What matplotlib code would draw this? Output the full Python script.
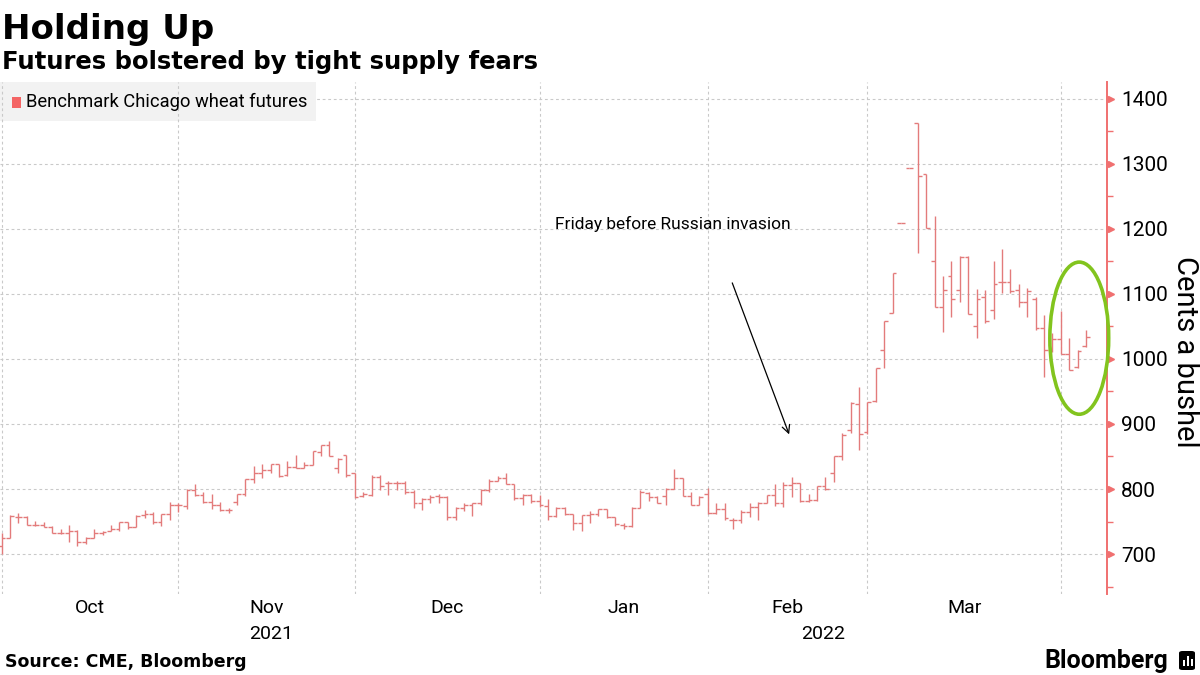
import matplotlib
matplotlib.use("Agg")
import matplotlib.pyplot as plt
import matplotlib.transforms as mtransforms
from matplotlib.patches import Ellipse, Rectangle, FancyBboxPatch

plt.rcParams['font.family'] = ['Roboto', 'DejaVu Sans']

# daily OHLC, cents a bushel, one entry per trading day (Sep 30 2021 onward)
opens = [712, 725, 757, 757, 745, 745, 742, 733, 733, 736,
         718, 725, 733, 736, 738, 749, 742, 760, 762, 750,
         761, 775, 774, 798, 791, 780, 775, 767, 780, 793,
         815, 824, 829, 838, 821, 834, 833, 837, 857, 867,
         833, 853, 825, 790, 791, 819, 809, 809, 810, 796,
         779, 785, 790, 788, 757, 771, 776, 778, 798, 813,
         817, 808, 786, 791, 781, 774, 758, 771, 762, 747,
         760, 762, 769, 757, 745, 743, 771, 794, 788, 790,
         800, 817, 790, 776, 793, 763, 770, 753, 752, 765,
         772, 779, 791, 778, 806, 809, 782, 783, 805, 824,
         850, 890, 931, 888, 936, 1014, 1070, 1209, 1293, 1363,
         1285, 1150, 1080, 1127, 1106, 1157, 1051, 1095, 1075, 1119,
         1119, 1106, 1088, 1093, 1047, 1014, 1031, 1008, 988, 1020]
highs = [732, 760, 763, 758, 751, 750, 743, 738, 745, 737,
         726, 738, 736, 745, 750, 750, 760, 767, 764, 762,
         780, 779, 800, 807, 795, 793, 780, 771, 793, 815,
         836, 838, 838, 838, 843, 853, 841, 858, 867, 874,
         847, 853, 825, 796, 821, 822, 813, 813, 812, 798,
         786, 791, 793, 789, 772, 778, 779, 800, 815, 820,
         824, 808, 793, 793, 791, 784, 772, 772, 762, 760,
         766, 769, 769, 757, 747, 772, 798, 796, 790, 802,
         831, 817, 795, 790, 801, 778, 778, 755, 768, 778,
         780, 791, 808, 811, 819, 809, 792, 805, 819, 850,
         886, 934, 957, 934, 986, 1059, 1133, 1209, 1293, 1363,
         1285, 1220, 1127, 1150, 1158, 1158, 1107, 1106, 1150, 1169,
         1138, 1116, 1109, 1095, 1068, 1040, 1074, 1032, 1014, 1044]
lows = [700, 725, 747, 745, 743, 741, 733, 731, 719, 712,
        716, 724, 730, 736, 736, 739, 742, 756, 746, 743,
        752, 765, 769, 790, 779, 770, 766, 763, 776, 790,
        810, 817, 824, 819, 820, 832, 832, 837, 850, 851,
        824, 819, 786, 788, 790, 798, 791, 798, 793, 771,
        768, 778, 779, 752, 752, 766, 759, 776, 795, 812,
        808, 783, 776, 779, 772, 753, 757, 760, 737, 736,
        748, 758, 755, 743, 738, 742, 771, 781, 778, 776,
        800, 790, 776, 776, 761, 761, 753, 739, 748, 757,
        753, 778, 774, 773, 788, 780, 780, 782, 798, 811,
        845, 886, 860, 885, 934, 986, 1070, 1209, 1293, 1163,
        1201, 1080, 1042, 1064, 1088, 1069, 1032, 1056, 1061, 1101,
        1101, 1080, 1064, 1045, 973, 1010, 1008, 983, 986, 1019]
closes = [725, 758, 757, 745, 745, 742, 733, 733, 736, 718,
          725, 733, 734, 738, 749, 742, 759, 761, 750, 761,
          775, 775, 798, 791, 780, 775, 767, 767, 793, 815,
          824, 829, 838, 820, 834, 833, 837, 858, 867, 851,
          846, 822, 788, 792, 819, 805, 810, 809, 796, 779,
          785, 788, 788, 757, 771, 776, 778, 798, 813, 817,
          808, 786, 791, 781, 776, 758, 771, 762, 747, 760,
          762, 769, 757, 746, 743, 771, 796, 788, 778, 800,
          817, 790, 776, 788, 763, 770, 755, 752, 765, 773,
          778, 791, 778, 806, 809, 782, 783, 805, 800, 850,
          883, 932, 885, 934, 986, 1059, 1133, 1209, 1293, 1281,
          1201, 1080, 1106, 1092, 1157, 1069, 1092, 1059, 1116, 1119,
          1104, 1088, 1104, 1047, 1014, 1031, 1008, 983, 1013, 1034]
days = list(range(len(closes)))

# gridlines sit on the last session of each month
month_edges = [0, 21, 42, 64, 84, 103, 126]
month_labels = ['Oct', 'Nov', 'Dec', 'Jan', 'Feb', 'Mar']
year_labels = ['2021', '2022']
year_edges = [0, 64]
yticks = [700, 800, 900, 1000, 1100, 1200, 1300, 1400]
yminor = [650, 750, 850, 950, 1050, 1150, 1250, 1350]

red = '#f07070'
bar_col = '#e37b7b'
grid_col = '#c9c9c9'
wide_bold = ['DejaVu Sans']

fig = plt.figure(figsize=(12, 6.75), dpi=100)
ax = fig.add_axes([0, 0.12, 0.9225, 0.7585])
x_lo, x_hi = -0.2, 131.5
ax.set_xlim(x_lo, x_hi)
ax.set_ylim(638.5, 1426)

for v in yticks:
    ax.axhline(v, color=grid_col, lw=0.8, ls=(0, (2.5, 2.5)), zorder=1)
for e in month_edges:
    ax.axvline(e, color=grid_col, lw=0.8, ls=(0, (2.5, 2.5)), zorder=3)

# OHLC bars
w = 0.45
ax.vlines(days, lows, highs, color=bar_col, lw=1.0, zorder=4)
ax.hlines(opens, [d - w for d in days], days, color=bar_col, lw=1.0, zorder=4)
ax.hlines(closes, days, [d + w for d in days], color=bar_col, lw=1.0, zorder=4)

for s in ['top', 'left', 'bottom']:
    ax.spines[s].set_visible(False)
ax.spines['right'].set_color(red)
ax.spines['right'].set_linewidth(1.4)

ax.set_xticks([])
ax.yaxis.tick_right()
ax.set_yticks(yticks)
ax.set_yticks(yminor, minor=True)
ax.tick_params(axis='y', which='major', length=0, pad=10, labelsize=15)
ax.tick_params(axis='y', which='minor', length=4, width=1, color=red, direction='out')

trans = mtransforms.blended_transform_factory(ax.transAxes, ax.transData)
shift = mtransforms.ScaledTranslation(3.5 / 100, 0, fig.dpi_scale_trans)
ax.plot([1.0] * len(yticks), yticks, ls='none', marker='>', ms=4.5, color=red,
        transform=trans + shift, clip_on=False, zorder=6)

# month and year labels
xtrans = mtransforms.blended_transform_factory(ax.transData, ax.transAxes)
for k, lab in enumerate(month_labels):
    mid = (month_edges[k] + month_edges[k + 1]) / 2
    ax.text(mid, -0.028, lab, transform=xtrans, ha='center', va='center', fontsize=14)
year_ends = [year_edges[1], x_hi]
for k, lab in enumerate(year_labels):
    mid = (max(year_edges[k], x_lo) + year_ends[k]) / 2
    ax.text(mid, -0.079, lab, transform=xtrans, ha='center', va='center', fontsize=14)

# legend box
ax.add_patch(Rectangle((0, 1 - 39 / 512), 316 / 1107, 39 / 512, transform=ax.transAxes,
                       facecolor='#f2f2f2', edgecolor='none', zorder=2))
ax.add_patch(Rectangle((11.7 / 1107, (594 - 108.3) / 512), 9 / 1107, 11.6 / 512,
                       transform=ax.transAxes, facecolor='#f46565', edgecolor='none', zorder=5))
ax.text(26 / 1107, (594 - 102) / 512, 'Benchmark Chicago wheat futures', transform=ax.transAxes,
        ha='left', va='center', fontsize=13.2, zorder=5)

# annotation
ax.text(79.9, 1208, 'Friday before Russian invasion', ha='center', va='center', fontsize=12.5, zorder=5)
ax.annotate('', xy=(93.8, 880), xytext=(86.8, 1121),
            arrowprops=dict(arrowstyle='->', color='black', lw=0.9, mutation_scale=14), zorder=5)

ax.add_patch(Ellipse((128.2, 1032), 7.0, 234, facecolor='none', edgecolor='#82c41e',
                     lw=2.6, zorder=6, clip_on=False))

# header / footer
fig.text(0.002, 1 - 38.5 / 675, 'Holding Up', fontsize=24.5, fontweight='bold', va='baseline',
         family=wide_bold)
fig.text(0.002, 1 - 68.5 / 675, 'Futures bolstered by tight supply fears', fontsize=17.5,
         fontweight='bold', va='baseline', family=wide_bold)
fig.text(1185 / 1200, 1 - 352 / 675, 'Cents a bushel', rotation=-90, fontsize=21,
         ha='center', va='center')
fig.text(5 / 1200, 1 - 667 / 675, 'Source: CME, Bloomberg', fontsize=12.5, fontweight='bold',
         va='baseline', family=wide_bold)
fig.text(1168 / 1200, 1 - 668 / 675, 'Bloomberg', fontsize=18, fontweight='bold',
         ha='right', va='baseline')
fig.patches.append(FancyBboxPatch((1179 / 1200, 1 - 670 / 675), 16 / 1200, 19 / 675,
                                  boxstyle='round,pad=0,rounding_size=0.003',
                                  transform=fig.transFigure, facecolor='black', edgecolor='none'))
for bx, bh in [(1183, 6), (1187, 10), (1191, 7)]:
    fig.patches.append(Rectangle((bx / 1200, 1 - 666 / 675), 2 / 1200, bh / 675,
                                 transform=fig.transFigure, facecolor='white', edgecolor='none'))

fig.savefig('out.png', dpi=100)
